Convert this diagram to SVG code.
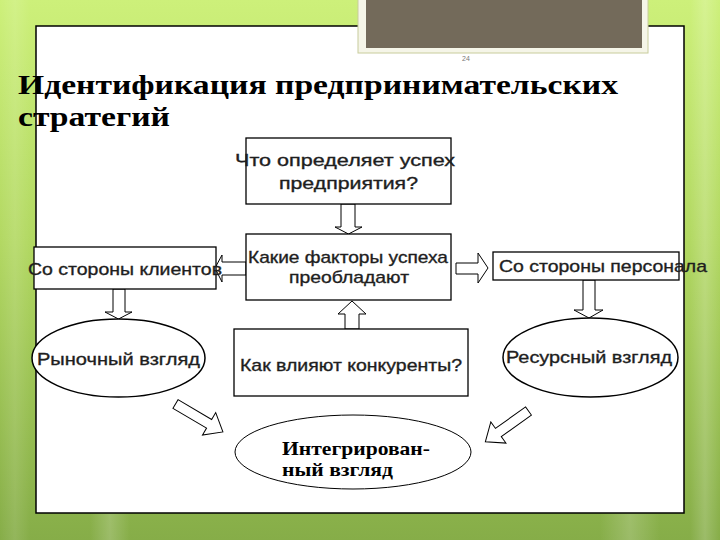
<svg xmlns="http://www.w3.org/2000/svg" width="720" height="540" viewBox="0 0 720 540">
<defs>
<linearGradient id="bg" x1="0" y1="0" x2="0" y2="1">
<stop offset="0" stop-color="#cdf07a"/>
<stop offset="0.45" stop-color="#b2d862"/>
<stop offset="1" stop-color="#86ad48"/>
</linearGradient>
<linearGradient id="stripe" x1="0" y1="0" x2="1" y2="0">
<stop offset="0" stop-color="#ffffff" stop-opacity="0"/>
<stop offset="0.5" stop-color="#ffffff" stop-opacity="0.18"/>
<stop offset="1" stop-color="#ffffff" stop-opacity="0"/>
</linearGradient>
<style>
.box{fill:#ffffff;stroke:#000000;stroke-width:1.3}
.ell{fill:#ffffff;stroke:#000000;stroke-width:1.5}
.arr{fill:#ffffff;stroke:#000000;stroke-width:1}
.t{font-family:"Liberation Sans",Arial,sans-serif;font-size:17px;fill:#1e1e1e;stroke:#1e1e1e;stroke-width:0.35}
.ts{font-family:"Liberation Serif","Times New Roman",serif;font-weight:bold;fill:#000000}
</style>
</defs>
<rect x="0" y="0" width="720" height="540" fill="url(#bg)"/>
<rect x="690" y="0" width="30" height="540" fill="url(#stripe)"/>
<rect x="0" y="0" width="30" height="540" fill="url(#stripe)" opacity="0.6"/>
<rect x="90" y="513" width="40" height="27" fill="url(#stripe)"/>
<rect x="600" y="513" width="60" height="27" fill="url(#stripe)"/>
<rect x="36" y="26" width="648" height="487" fill="#ffffff" stroke="#000000" stroke-width="1.5"/>
<rect x="358" y="-5" width="290" height="58" fill="#f5f5e8" stroke="#c8cc9c" stroke-width="1"/>
<rect x="366" y="0" width="276" height="48" fill="#736a5a"/>
<text x="466" y="61" font-family="Liberation Sans, Arial, sans-serif" font-size="7" fill="#777777" text-anchor="middle">24</text>
<text class="ts" x="18" y="94" font-size="27" textLength="600" lengthAdjust="spacingAndGlyphs">Идентификация предпринимательских</text>
<text class="ts" x="18" y="126" font-size="27" textLength="152" lengthAdjust="spacingAndGlyphs">стратегий</text>
<g id="connectors">
<polygon class="arr" points="341,204 355,204 355,227 362,227 348.5,234 335,227 341,227"/>
<polygon class="arr" points="345,329 359,329 359,314 366,314 352,301 338,314 345,314"/>
<polygon class="arr" points="246,262 222,262 222,255 215,268 222,282 222,275 246,275"/>
<polygon class="arr" points="456,263 478,263 478,253 488,268 478,283 478,274 456,274"/>
<polygon class="arr" points="113,289 125,289 125,312 132,312 118.5,319 105,312 113,312"/>
<polygon class="arr" points="583,280 595,280 595,310 603,310 589,318 574,310 583,310"/>
<polygon class="arr" points="0,-5 39,-5 39,-13 55,0 39,13 39,5 0,5" transform="translate(175.5,404) rotate(30.5)"/>
<polygon class="arr" points="0,-5 37,-5 37,-13 53,0 37,13 37,5 0,5" transform="translate(528.5,411) rotate(144.5)"/>
</g>
<g id="n1"><rect class="box" x="246" y="138" width="205" height="66"/>
<text class="t" x="235" y="166" textLength="220" lengthAdjust="spacingAndGlyphs">Что определяет успех</text>
<text class="t" x="279" y="189" textLength="139" lengthAdjust="spacingAndGlyphs">предприятия?</text></g>
<g id="n2"><rect class="box" x="246" y="234" width="205" height="66"/>
<text class="t" x="248" y="263" textLength="200" lengthAdjust="spacingAndGlyphs">Какие факторы успеха</text>
<text class="t" x="289" y="283" textLength="120" lengthAdjust="spacingAndGlyphs">преобладают</text></g>
<g id="n3"><rect class="box" x="34" y="247" width="182" height="42"/>
<text class="t" x="28" y="275" textLength="194" lengthAdjust="spacingAndGlyphs">Со стороны клиентов</text></g>
<g id="n4"><rect class="box" x="493" y="252" width="186" height="28"/>
<text class="t" x="499" y="272" textLength="208" lengthAdjust="spacingAndGlyphs">Со стороны персонала</text></g>
<g id="n5"><ellipse class="ell" cx="118.5" cy="358" rx="86.5" ry="39"/>
<text class="t" x="37" y="365" textLength="163" lengthAdjust="spacingAndGlyphs">Рыночный взгляд</text></g>
<g id="n6"><ellipse class="ell" cx="590.5" cy="357.5" rx="87.5" ry="39.5"/>
<text class="t" x="506" y="363" textLength="166" lengthAdjust="spacingAndGlyphs">Ресурсный взгляд</text></g>
<g id="n7"><rect class="box" x="234" y="329" width="234" height="67"/>
<text class="t" x="240" y="371" textLength="222" lengthAdjust="spacingAndGlyphs">Как влияют конкуренты?</text></g>
<g id="n8"><ellipse cx="353" cy="452" rx="118" ry="37" fill="#ffffff" stroke="#000000" stroke-width="1"/>
<text class="ts" x="282" y="455" font-size="19" textLength="148" lengthAdjust="spacingAndGlyphs">Интегрирован-</text>
<text class="ts" x="282" y="476" font-size="19" textLength="111" lengthAdjust="spacingAndGlyphs">ный взгляд</text></g>
</svg>
